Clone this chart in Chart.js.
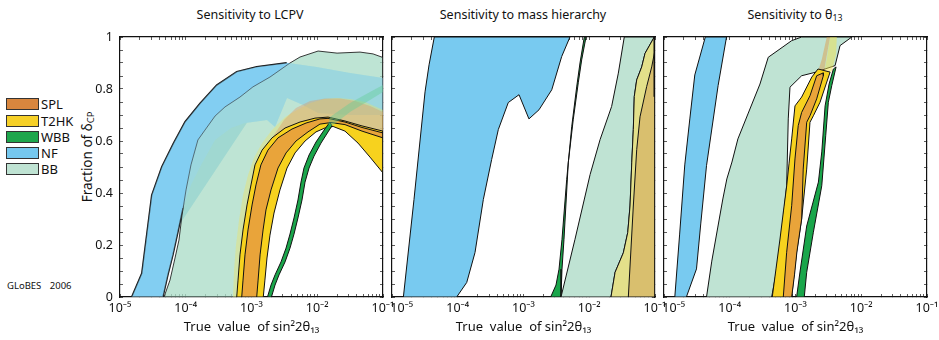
<!DOCTYPE html>
<html>
<head>
<meta charset="utf-8">
<script src="https://cdn.jsdelivr.net/npm/chart.js@4.4.1/dist/chart.umd.min.js"></script>
<style>
  body { margin:0; background:#fff; }
  #fig { position:relative; width:939px; height:340px; overflow:hidden; background:#fff;
         font-family:'Noto Sans','DejaVu Sans',sans-serif; color:#111; }
  #fig canvas { position:absolute; }
  .ptitle { position:absolute; top:6px; transform:translateX(-50%); font-size:12.5px; white-space:nowrap; }
  .ytitle { position:absolute; left:87px; top:157px; transform:translate(-50%,-50%) rotate(-90deg);
            font-size:13.5px; white-space:nowrap; }
  .lgbox { position:absolute; left:6px; width:31px; height:10px; border:1px solid #333; }
  .lgtxt { position:absolute; left:41px; font-size:13px; line-height:12px; }
  .globes { position:absolute; left:7px; top:279px; font-size:9.5px; word-spacing:6px; }
  sub { font-size:70%; vertical-align:-2px; }
</style>
</head>
<body>
<div id="fig">
  <div class="ptitle" style="left:250px">Sensitivity to LCPV</div>
  <div class="ptitle" style="left:523px">Sensitivity to mass hierarchy</div>
  <div class="ptitle" style="left:795px">Sensitivity to θ<sub>13</sub></div>
  <div class="ytitle">Fraction of δ<sub>CP</sub></div>
  <div class="globes">GLoBES 2006</div>
  <div id="legend"></div>
  <canvas id="lcpv" width="335" height="311" style="left:70px;top:29px"></canvas>
  <canvas id="mh" width="335" height="311" style="left:342px;top:29px"></canvas>
  <canvas id="th13" width="335" height="311" style="left:614px;top:29px"></canvas>
</div>
<script>
// axis ticks
var decades = [1e-5, 1e-4, 1e-3, 1e-2, 1e-1];
var decadeLabels = ['10⁻⁵', '10⁻⁴', '10⁻³', '10⁻²', '10⁻¹'];
var minorSteps = [2, 3, 4, 5, 6, 7, 8, 9];
var yTickValues = [0, 0.05, 0.1, 0.15, 0.2, 0.25, 0.3, 0.35, 0.4, 0.45, 0.5,
                   0.55, 0.6, 0.65, 0.7, 0.75, 0.8, 0.85, 0.9, 0.95, 1];
var yTickLabels = ['0', '0.2', '0.4', '0.6', '0.8', '1'];

// legend
var legendNames = ['SPL', 'T2HK', 'WBB', 'NF', 'BB'];
var legendColors = ['#d8863e', '#f6d027', '#1ea64c', '#75c8ef', '#bfe3d3'];
var legendTops = [98, 115, 131, 147, 163];

// colours
var colNF = '#78caf0', colBB = '#bfe3d3', colBBsee = 'rgba(172,220,200,0.78)', colNFtint = 'rgba(150,215,245,0.35)';
var colT2HK = '#f7d21e', colSPL = '#e9a43a', colWBB = '#1aa64b';
var colT2HKlight = 'rgba(240,225,95,0.38)', colSPLlight = 'rgba(225,150,95,0.38)';
var colWBBlight = 'rgba(100,205,150,0.42)';

// ---- panel 1 : sensitivity to leptonic CP violation  [sin^2 2theta13, fraction]
var lcpvNFOuter = [[1.5e-5,0],[2.14e-5,0.091],[3.03e-5,0.392],[4.31e-5,0.501],[6.47e-5,0.591],[9.75e-5,0.674],
  [1.65e-4,0.745],[2.95e-4,0.815],[5.96e-4,0.867],[1.2e-3,0.886],[3.43e-3,0.901],[9.8e-3,0.885],[3.15e-2,0.862],[0.1,0.842]];
var lcpvNFInner = [[4.51e-5,0],[5.37e-5,0.085],[6.4e-5,0.162],[7.62e-5,0.25],[9.08e-5,0.342],[1.2e-4,0.431],
  [1.71e-4,0.508],[2.79e-4,0.604],[4.88e-4,0.65],[7.96e-4,0.669],[1.05e-3,0.673],[1.72e-3,0.681],[2.28e-3,0.654],
  [3.47e-3,0.765],[6.07e-3,0.738],[1.03e-2,0.708],[3.15e-2,0.70],[0.1,0.70]];
var lcpvBBOuter = [[4.67e-5,0],[5.76e-5,0.065],[6.87e-5,0.15],[7.89e-5,0.219],[8.77e-5,0.315],[1.01e-4,0.412],
  [1.2e-4,0.508],[1.53e-4,0.604],[1.96e-4,0.642],[2.79e-4,0.696],[3.95e-4,0.731],[6.68e-4,0.769],[1.05e-3,0.808],
  [1.91e-3,0.846],[3.85e-3,0.9],[5.47e-3,0.923],[1.03e-2,0.946],[2.0e-2,0.938],[4.47e-2,0.942],[7.05e-2,0.935],[0.1,0.921]];
var lcpvT2HKOuter = [[5.96e-4,0],[6.24e-4,0.065],[6.68e-4,0.162],[7.43e-4,0.258],[8.55e-4,0.354],[9.82e-4,0.431],
  [1.13e-3,0.508],[1.45e-3,0.565],[2.05e-3,0.612],[3.24e-3,0.65],[5.47e-3,0.673],[9.25e-3,0.688],[1.46e-2,0.692],
  [2.64e-2,0.677],[4.8e-2,0.658],[0.1,0.638]];
var lcpvT2HKInner = [[1.51e-3,0],[1.6e-3,0.065],[1.72e-3,0.15],[1.91e-3,0.238],[2.2e-3,0.323],[2.71e-3,0.412],
  [3.47e-3,0.496],[4.59e-3,0.554],[6.52e-3,0.60],[9.57e-3,0.635],[1.31e-2,0.65],[1.74e-2,0.656],[2.64e-2,0.638],
  [4.17e-2,0.592],[6.34e-2,0.538],[0.1,0.477]];
var lcpvSPLOuter = [[7.1e-4,0],[7.43e-4,0.065],[7.96e-4,0.162],[8.85e-4,0.258],[1.02e-3,0.354],[1.17e-3,0.431],
  [1.39e-3,0.508],[1.78e-3,0.565],[2.53e-3,0.612],[4.13e-3,0.646],[6.75e-3,0.669],[1.1e-2,0.685],[1.46e-2,0.687],
  [2.64e-2,0.673],[4.8e-2,0.652],[0.1,0.631]];
var lcpvSPLInner = [[1.2e-3,0],[1.26e-3,0.065],[1.35e-3,0.162],[1.5e-3,0.258],[1.66e-3,0.335],[1.98e-3,0.412],
  [2.53e-3,0.496],[3.35e-3,0.554],[4.75e-3,0.60],[7.23e-3,0.635],[1.1e-2,0.665],[1.62e-2,0.671],[2.64e-2,0.663],
  [4.8e-2,0.638],[0.1,0.612]];
var lcpvT2HKLight = [[5.23e-4,0],[5.42e-4,0.104],[5.81e-4,0.2],[6.46e-4,0.296],[7.43e-4,0.392],[8.85e-4,0.469],
  [1.09e-3,0.535],[1.45e-3,0.592],[2.05e-3,0.642],[3.24e-3,0.692],[4.92e-3,0.719],[7.76e-3,0.746],[1.27e-2,0.762],
  [2.0e-2,0.765],[3.15e-2,0.762],[5.32e-2,0.75],[0.1,0.719]];
var lcpvSPLLight = [[7.1e-4,0],[7.43e-4,0.065],[7.96e-4,0.162],[8.85e-4,0.258],[1.02e-3,0.354],[1.17e-3,0.431],
  [1.39e-3,0.508],[1.66e-3,0.565],[2.2e-3,0.623],[3.12e-3,0.681],[4.75e-3,0.727],[7.76e-3,0.754],[1.31e-2,0.763],
  [2.22e-2,0.763],[3.75e-2,0.754],[6.34e-2,0.735],[0.1,0.712]];
var lcpvWBBLeft = [[1.75e-3,0],[1.98e-3,0.046],[2.28e-3,0.085],[2.81e-3,0.135],[3.35e-3,0.188],[3.85e-3,0.242],
  [4.43e-3,0.304],[5.09e-3,0.373],[5.66e-3,0.442],[6.28e-3,0.496],[7.5e-3,0.546],[9.57e-3,0.596],[1.27e-2,0.642],[1.56e-2,0.673]];
var lcpvWBBRight = [[2.01e-3,0],[2.28e-3,0.046],[2.62e-3,0.085],[3.24e-3,0.135],[3.85e-3,0.188],[4.43e-3,0.242],
  [5.09e-3,0.304],[5.86e-3,0.373],[6.52e-3,0.442],[7.5e-3,0.496],[8.93e-3,0.542],[1.14e-2,0.592],[1.46e-2,0.635],[1.67e-2,0.658]];
var lcpvWBBLight = [[1.46e-2,0.665],[1.56e-2,0.692],[3.15e-2,0.746],[6.34e-2,0.788],[0.1,0.815],
  [0.1,0.788],[6.34e-2,0.758],[3.15e-2,0.712],[1.67e-2,0.658]];

// ---- panel 2 : sensitivity to mass hierarchy
var mhNFLeft = [[1.49e-5,0],[2.16e-5,0.375],[3.18e-5,0.789],[3.66e-5,0.893],[4.4e-5,1]];
var mhNFRight = [[9.64e-5,0],[1.37e-4,0.056],[1.83e-4,0.171],[2.45e-4,0.375],[3.28e-4,0.529],[4.14e-4,0.644],
  [5.87e-4,0.748],[8.55e-4,0.778],[1.21e-3,0.685],[1.72e-3,0.72],[2.69e-3,0.797],[3.81e-3,0.925],[5.09e-3,1]];
var mhWBBLeft = [[2.59e-3,0],[3.12e-3,0.046],[3.47e-3,0.107],[3.85e-3,0.222],[4.54e-3,0.452],[5.41e-3,0.655],
  [6.44e-3,0.808],[7.23e-3,0.9],[8.41e-3,1]];
var mhWBBRight = [[3.72e-3,0],[3.85e-3,0.107],[4.13e-3,0.222],[4.8e-3,0.517],[5.71e-3,0.682],[6.81e-3,0.824],
  [7.67e-3,0.912],[8.93e-3,1]];
var mhBBLeft = [[3.72e-3,0],[6.07e-3,0.222],[1.03e-2,0.471],[1.46e-2,0.605],[2.19e-2,0.733],[2.77e-2,0.861],[3.41e-2,1]];
var mhBBRight = [[2.14e-2,0],[2.47e-2,0.095],[3.3e-2,0.17],[3.85e-2,0.248],[4.17e-2,0.35],[4.43e-2,0.516],
  [4.68e-2,0.644],[4.84e-2,0.771],[5.27e-2,0.835],[6.28e-2,0.885],[7.05e-2,0.937],[9.75e-2,1]];
var mhTanEdge = [[3.93e-2,0],[4.68e-2,0.35],[5.27e-2,0.567],[5.92e-2,0.693],[7.48e-2,0.81],[8.91e-2,0.885],[0.1,0.95]];
var mhEdgeLine = [[0.1,1],[0.1,0.77]];

// ---- panel 3 : sensitivity to theta13
var thNFLeft = [[1.46e-5,0],[1.73e-5,0.242],[2.07e-5,0.508],[2.47e-5,0.685],[2.94e-5,0.854],[3.5e-5,0.923],[4.25e-5,1]];
var thNFRight = [[2.19e-5,0],[3.12e-5,0.108],[3.62e-5,0.281],[4.43e-5,0.505],[6.65e-5,0.813],[8.93e-5,1]];
var thBBOuter = [[4.43e-5,0],[5.33e-5,0.138],[6.59e-5,0.269],[7.85e-5,0.377],[9.03e-5,0.454],[1.08e-4,0.519],
  [1.33e-4,0.608],[1.89e-4,0.704],[2.88e-4,0.819],[3.85e-4,0.922],[5.81e-4,0.954],[8.75e-4,0.986],[1.24e-3,1],[7.19e-3,1]];
var thBBInner = [[4.34e-4,0],[5.81e-4,0.172],[7.34e-4,0.428],[7.76e-4,0.685],[8.24e-4,0.807],[1.24e-3,0.851],
  [1.98e-3,0.864],[4.0e-3,0.89],[4.76e-3,0.967],[7.19e-3,1]];
var thT2HKOuter = [[4.43e-4,0],[5.05e-4,0.108],[5.81e-4,0.223],[6.56e-4,0.331],[7.34e-4,0.427],[7.96e-4,0.512],
  [8.75e-4,0.608],[9.82e-4,0.735],[1.24e-3,0.769],[1.77e-3,0.846],[2.2e-3,0.877],[3.36e-3,0.865]];
var thT2HKInner = [[8.75e-4,0],[9.49e-4,0.085],[1.04e-3,0.173],[1.24e-3,0.30],[1.48e-3,0.492],[1.66e-3,0.672],
  [1.87e-3,0.697],[2.36e-3,0.749],[3.36e-3,0.865]];
var thSPLOuter = [[6.52e-4,0],[7.34e-4,0.172],[8.75e-4,0.351],[9.82e-4,0.531],[1.1e-3,0.659],[1.24e-3,0.71],
  [1.66e-3,0.774],[2.1e-3,0.851],[2.65e-3,0.862]];
var thSPLInner = [[8.75e-4,0],[9.66e-4,0.085],[1.05e-3,0.173],[1.24e-3,0.30],[1.31e-3,0.492],[1.48e-3,0.672],
  [1.66e-3,0.697],[2.1e-3,0.762],[2.65e-3,0.851]];
var thSPLLight = [[2.1e-3,0.851],[2.52e-3,0.915],[2.99e-3,1],[3.36e-3,1],[2.92e-3,0.915],[2.65e-3,0.851]];
var thT2HKLight = [[2.65e-3,0.851],[3.02e-3,0.923],[3.36e-3,1],[4.25e-3,1],[4.14e-3,0.935],[3.6e-3,0.869]];
var thWBBLeft = [[1.04e-3,0],[1.17e-3,0.096],[1.48e-3,0.273],[1.85e-3,0.365],[2.23e-3,0.442],[2.51e-3,0.558],
  [2.82e-3,0.735],[3.24e-3,0.819],[3.77e-3,0.877]];
var thWBBRight = [[1.36e-3,0],[1.48e-3,0.095],[1.87e-3,0.249],[2.51e-3,0.428],[2.88e-3,0.62],[3.16e-3,0.749],
  [3.56e-3,0.813],[4.14e-3,0.885]];

var FONT = "'Noto Sans','DejaVu Sans',sans-serif";

// polygon going up one edge and back down the other
function band(a, b) {
  return a.concat(b.slice().reverse());
}

function shape(pts, fillColor, line, width) {
  var closed = pts.concat([pts[0]]);
  return {
    data: closed.map(function(p){ return {x: p[0], y: p[1]}; }),
    showLine: true,
    fill: fillColor ? 'shape' : false,
    backgroundColor: fillColor || 'rgba(0,0,0,0)',
    borderColor: line || 'rgba(0,0,0,0)',
    borderWidth: width || 1,
    pointRadius: 0,
    pointHoverRadius: 0,
    tension: 0
  };
}

function polyline(pts, line, width) {
  return {
    data: pts.map(function(p){ return {x: p[0], y: p[1]}; }),
    showLine: true, fill: false,
    borderColor: line, borderWidth: width,
    pointRadius: 0, pointHoverRadius: 0, tension: 0
  };
}

// NF edges that run underneath the BB band are not stroked
var nfLCPV = shape(band(lcpvNFOuter, lcpvNFInner), colNF, '#111', 1.4);
var hideFrom = lcpvNFOuter.length - 4, hideTo = lcpvNFOuter.length + lcpvNFInner.length - 5;
nfLCPV.segment = {
  borderColor: function(c){ return (c.p0DataIndex >= hideFrom && c.p0DataIndex < hideTo) ? 'rgba(0,0,0,0)' : undefined; }
};

var xTickValues = [];
decades.forEach(function(d, i){
  xTickValues.push(d);
  if (i < decades.length - 1) minorSteps.forEach(function(m){ xTickValues.push(m * d); });
});

// the first label of the 2nd and 3rd panel sits to the right of its tick
function decadeLabel(v, shiftFirst) {
  for (var i = 0; i < decades.length; i++) {
    if (Math.abs(v - decades[i]) < decades[i] * 1e-6) {
      return (shiftFirst && i === 0 ? '\u00a0\u00a0\u00a0\u00a0\u00a0\u00a0' : '') + decadeLabels[i];
    }
  }
  return '';
}

function yLabel(v) {
  var k = v * 5;
  if (Math.abs(k - Math.round(k)) < 1e-6) return yTickLabels[Math.round(k)];
  return '';
}

function setX(s){ s.ticks = xTickValues.map(function(v){ return {value: v}; }); }
function setY(s){ s.ticks = yTickValues.map(function(v){ return {value: v}; }); }
function noPad(s){ s.paddingTop = 0; s.paddingBottom = 0; s.paddingLeft = 0; s.paddingRight = 0; }

var gridOpts = {drawOnChartArea: false, tickLength: -3, tickColor: '#333', tickWidth: 0.8};
var borderOpts = {display: true, color: '#111', width: 1.2};

function makePanel(id, layers, first) {
  return new Chart(document.getElementById(id), {
    type: 'scatter',
    data: {datasets: layers.slice().reverse()},
    options: {
      responsive: false,
      animation: false,
      devicePixelRatio: 1,
      events: [],
      layout: {padding: {left: 0, top: 8, right: 22, bottom: 0}},
      plugins: {legend: {display: false}, tooltip: {enabled: false}},
      scales: {
        x: {
          type: 'logarithmic', position: 'bottom', min: 1e-5, max: 1e-1,
          afterBuildTicks: setX,
          afterFit: function(s){ s.height = 43; noPad(s); },
          ticks: {autoSkip: false, maxRotation: 0, minRotation: 0, padding: 7, color: '#111',
                  font: {family: FONT, size: 12.5}, callback: function(v){ return decadeLabel(v, !first); }},
          grid: gridOpts, border: borderOpts,
          title: {display: true, text: 'True  value  of sin²2θ₁₃', color: '#111',
                  font: {family: FONT, size: 13}, padding: {top: 0, bottom: 5}}
        },
        xTop: {
          type: 'logarithmic', position: 'top', min: 1e-5, max: 1e-1,
          afterBuildTicks: setX,
          afterFit: function(s){ s.height = 0; noPad(s); },
          ticks: {display: false, autoSkip: false},
          grid: gridOpts, border: borderOpts
        },
        y: {
          type: 'linear', position: 'left', min: 0, max: 1,
          afterBuildTicks: setY,
          afterFit: function(s){ s.width = 50; noPad(s); },
          ticks: {display: first, autoSkip: false, padding: 10, color: '#111',
                  font: {family: FONT, size: 12.5}, callback: function(v){ return yLabel(v); }},
          grid: gridOpts, border: borderOpts
        },
        yRight: {
          type: 'linear', position: 'right', min: 0, max: 1,
          afterBuildTicks: setY,
          afterFit: function(s){ s.width = 0; noPad(s); },
          ticks: {display: false, autoSkip: false},
          grid: gridOpts, border: borderOpts
        }
      }
    }
  });
}

// layers listed bottom -> top
makePanel('lcpv', [
  nfLCPV,
  shape(band(lcpvBBOuter, lcpvSPLInner), colBBsee, '#222', 0.9),
  shape(band(lcpvNFOuter, lcpvNFInner), colNFtint, null),
  shape(band(lcpvT2HKLight, lcpvT2HKInner), colT2HKlight, null),
  shape(band(lcpvSPLLight, lcpvSPLInner), colSPLlight, null),
  shape(band(lcpvT2HKOuter, lcpvT2HKInner), colT2HK, '#111', 1),
  shape(band(lcpvSPLOuter, lcpvSPLInner), colSPL, '#111', 1),
  shape(band(lcpvWBBLeft, lcpvWBBRight), colWBB, '#111', 1),
  shape(lcpvWBBLight, colWBBlight, null)
], true);

makePanel('mh', [
  shape(band(mhNFLeft, mhNFRight), colNF, '#111', 1),
  shape(band(mhWBBLeft, mhWBBRight), colWBB, '#111', 1),
  shape(band(mhBBLeft, mhBBRight), colBB, '#111', 1),
  shape(mhBBRight.concat([[0.1,1],[0.1,0]]), '#e3e08a', '#111', 1),
  shape(mhTanEdge.concat([[0.1,0]]), '#d9bf6e', '#111', 1),
  polyline(mhEdgeLine, '#111', 3)
], false);

makePanel('th13', [
  shape(band(thNFLeft, thNFRight), colNF, '#111', 1),
  shape(band(thBBOuter, thBBInner), colBB, '#111', 1),
  shape(thSPLLight, 'rgba(225,150,60,0.45)', null),
  shape(thT2HKLight, 'rgba(240,225,80,0.5)', null),
  shape(band(thT2HKOuter, thT2HKInner), colT2HK, '#111', 1),
  shape(band(thSPLOuter, thSPLInner), colSPL, '#111', 1),
  shape(band(thWBBLeft, thWBBRight), colWBB, '#111', 1)
], false);

// legend
var lg = document.getElementById('legend');
legendNames.forEach(function(name, i){
  var b = document.createElement('div');
  b.className = 'lgbox';
  b.style.top = legendTops[i] + 'px';
  b.style.background = legendColors[i];
  lg.appendChild(b);
  var t = document.createElement('div');
  t.className = 'lgtxt';
  t.style.top = legendTops[i] + 'px';
  t.textContent = name;
  lg.appendChild(t);
});
</script>
</body>
</html>
